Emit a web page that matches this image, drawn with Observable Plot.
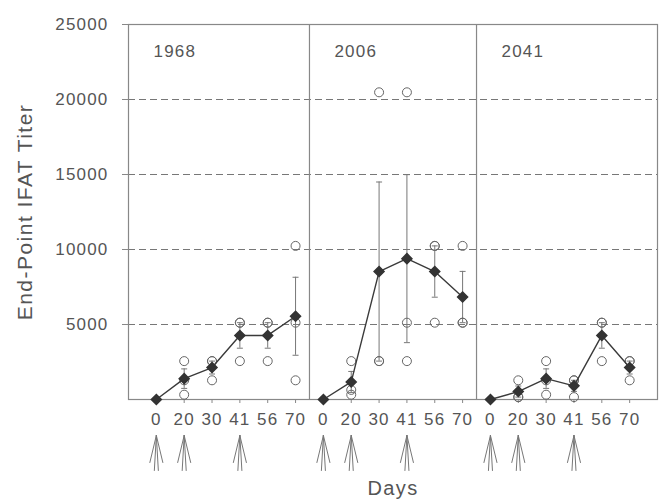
<!DOCTYPE html>
<html>
<head>
<meta charset="utf-8">
<script src="https://cdn.jsdelivr.net/npm/d3@7"></script>
<script src="https://cdn.jsdelivr.net/npm/@observablehq/plot@0.6"></script>
<style>
  html, body { margin: 0; padding: 0; background: #fff; }
  #chart svg text { letter-spacing: 0.07em; }
</style>
</head>
<body>
<div id="chart"></div>
<script>
// ---- data ----
const panels = ["1968", "2006", "2041"];
const days = [0, 20, 30, 41, 56, 70];
const yTicks = [5000, 10000, 15000, 20000, 25000];
const gridValues = [5000, 10000, 15000, 20000];
const injectionDays = [0, 20, 41];

// group means (filled diamonds)
const mean1968 = [0, 1390, 2130, 4270, 4270, 5550];
const mean2006 = [0, 1170, 8530, 9390, 8530, 6830];
const mean2041 = [0, 530, 1390, 910, 4270, 2130];

// standard errors (error bars)
const se1968 = [0, 650, 430, 850, 850, 2600];
const se2006 = [0, 700, 5970, 5600, 1710, 1710];
const se2041 = [0, 370, 650, 370, 850, 430];

// individual animal titers (open circles)
const titers1968 = [[], [2560, 1280, 320], [2560, 2560, 1280], [5120, 5120, 2560], [5120, 5120, 2560], [10240, 5120, 1280]];
const titers2006 = [[], [2560, 640, 320], [20480, 2560, 2560], [20480, 5120, 2560], [10240, 10240, 5120], [10240, 5120, 5120]];
const titers2041 = [[], [1280, 160, 160], [2560, 1280, 320], [1280, 1280, 160], [5120, 5120, 2560], [2560, 2560, 1280]];

// ---- tables built from the arrays ----
const seriesMeans = [mean1968, mean2006, mean2041];
const seriesSE = [se1968, se2006, se2041];
const seriesTiters = [titers1968, titers2006, titers2041];
const n = days.length;

const summary = panels.flatMap((p, pi) => days.map((d, di) => ({
  panel: p, pos: pi * n + di, day: d,
  mean: seriesMeans[pi][di], lo: seriesMeans[pi][di] - seriesSE[pi][di], hi: seriesMeans[pi][di] + seriesSE[pi][di]
})));
const errs = summary.filter(d => d.hi > d.lo);
const points = panels.flatMap((p, pi) => days.flatMap((d, di) => seriesTiters[pi][di].map(v => ({panel: p, pos: pi * n + di, titer: v}))));
const arrows = panels.flatMap((p, pi) => injectionDays.map(d => ({panel: p, pos: pi * n + days.indexOf(d)})));
const dividers = panels.slice(1).map((p, i) => (i + 1) * n - 0.5);
const panelStarts = panels.map((p, pi) => ({panel: p, pos: pi === 0 ? -1 : pi * n - 0.5}));

// custom shapes
const capSymbol = { draw(ctx) { ctx.moveTo(-3, 0); ctx.lineTo(3, 0); } };
const fanArrow = { draw(ctx, l) {
  ctx.moveTo(0, -l); ctx.lineTo(-6.5, -l + 27);
  ctx.moveTo(0, -l); ctx.lineTo(6.5, -l + 27);
  ctx.moveTo(0, -l); ctx.lineTo(-2, 0);
  ctx.moveTo(0, -l); ctx.lineTo(2, 0);
} };

const ink = "#555";
const chart = Plot.plot({
  width: 659,
  height: 501,
  marginLeft: 128,
  marginRight: 2,
  marginTop: 24,
  marginBottom: 102,
  style: { fontFamily: "'Liberation Sans', Arial, sans-serif", color: ink, background: "#fff", overflow: "visible" },
  x: { type: "linear", domain: [-1, panels.length * n] },
  y: { domain: [0, 25000] },
  marks: [
    Plot.ruleY(gridValues, { stroke: "#777", strokeDasharray: "7,4", strokeWidth: 1 }),
    Plot.frame({ stroke: "#888", strokeWidth: 1.2 }),
    Plot.ruleX(dividers, { stroke: "#888", strokeWidth: 1.2 }),
    Plot.axisX({ ticks: summary.map(d => d.pos), tickFormat: i => days[i % n], tickSize: 4, tickPadding: 9, fontSize: 17, stroke: "#888", label: null }),
    Plot.axisY({ ticks: yTicks, tickFormat: d3.format("d"), tickSize: 6, tickPadding: 14, fontSize: 17, stroke: "#888", label: null }),
    Plot.text(panelStarts, { x: "pos", text: "panel", frameAnchor: "top", dy: 27, dx: 25, textAnchor: "start", lineAnchor: "middle", fontSize: 17, fill: ink }),
    Plot.ruleX(errs, { x: "pos", y1: "lo", y2: "hi", stroke: "#777", strokeWidth: 1 }),
    Plot.dot(errs, { x: "pos", y: "lo", symbol: capSymbol, stroke: "#777", strokeWidth: 1 }),
    Plot.dot(errs, { x: "pos", y: "hi", symbol: capSymbol, stroke: "#777", strokeWidth: 1 }),
    Plot.dot(points, { x: "pos", y: "titer", r: 4.5, stroke: "#666", strokeWidth: 1, fill: "none" }),
    Plot.line(summary, { x: "pos", y: "mean", z: "panel", stroke: "#3a3a3a", strokeWidth: 1.4 }),
    Plot.dot(summary, { x: "pos", y: "mean", symbol: "diamond2", r: 4.5, fill: "#333", stroke: "#333" }),
    Plot.vector(arrows, { x: "pos", frameAnchor: "bottom", dy: 71, length: 35, rotate: 0, anchor: "start", shape: fanArrow, stroke: "#777", strokeWidth: 1 }),
    Plot.text(["End-Point IFAT Titer"], { frameAnchor: "left", rotate: -90, dx: -103, fontSize: 21, fill: ink, textAnchor: "middle", lineAnchor: "middle" }),
    Plot.text(["Days"], { frameAnchor: "bottom", dy: 89, fontSize: 20, fill: ink, textAnchor: "middle", lineAnchor: "middle" })
  ]
});
document.getElementById("chart").appendChild(chart);
</script>
</body>
</html>
